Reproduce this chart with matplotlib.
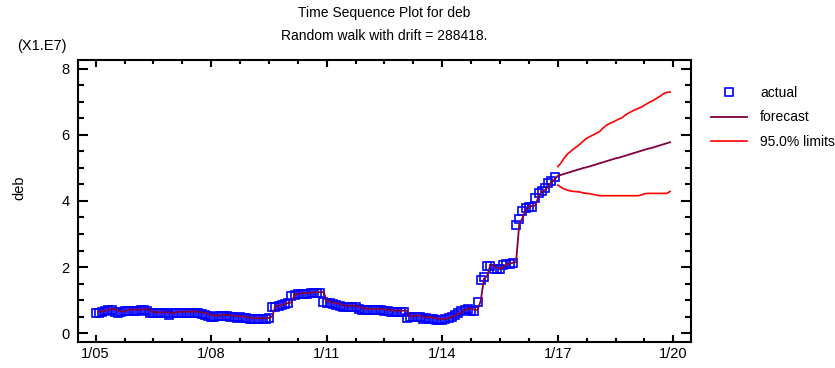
import numpy as np
import matplotlib
matplotlib.use("Agg")
import matplotlib.pyplot as plt
from matplotlib.ticker import MultipleLocator, FixedLocator

plt.rcParams['font.family'] = ['Liberation Sans', 'DejaVu Sans']

# monthly data, Jan 2005 .. Dec 2016 (units of 1E7)
actual = [
    0.62, 0.62, 0.64, 0.68, 0.71, 0.70, 0.65, 0.62, 0.63, 0.67, 0.68, 0.68,   # 2005
    0.68, 0.68, 0.69, 0.71, 0.66, 0.60, 0.60, 0.60, 0.60, 0.60, 0.60, 0.56,   # 2006
    0.60, 0.61, 0.62, 0.62, 0.62, 0.62, 0.62, 0.62, 0.60, 0.58, 0.56, 0.52,   # 2007
    0.50, 0.50, 0.51, 0.52, 0.52, 0.51, 0.50, 0.48, 0.47, 0.48, 0.46, 0.45,   # 2008
    0.42, 0.42, 0.42, 0.42, 0.42, 0.43, 0.47, 0.78, 0.80, 0.82, 0.86, 0.88,   # 2009
    0.90, 1.12, 1.16, 1.17, 1.18, 1.18, 1.19, 1.20, 1.21, 1.21, 1.22, 0.95,   # 2010
    0.92, 0.90, 0.88, 0.86, 0.82, 0.80, 0.80, 0.80, 0.80, 0.78, 0.72, 0.71,   # 2011
    0.71, 0.70, 0.70, 0.70, 0.70, 0.69, 0.68, 0.66, 0.65, 0.65, 0.65, 0.65,   # 2012
    0.65, 0.47, 0.48, 0.50, 0.50, 0.48, 0.44, 0.46, 0.44, 0.42, 0.40, 0.40,   # 2013
    0.40, 0.42, 0.45, 0.50, 0.55, 0.60, 0.67, 0.70, 0.72, 0.68, 0.67, 0.95,   # 2014
    1.62, 1.70, 2.04, 2.02, 1.95, 1.93, 1.95, 2.05, 2.08, 2.10, 2.12, 3.27,   # 2015
    3.45, 3.70, 3.80, 3.82, 3.83, 4.10, 4.25, 4.30, 4.40, 4.55, 4.62, 4.73,   # 2016
]
drift = 0.0288418

# forecasts Jan 2017 .. Dec 2019
forecast = [4.76, 4.79, 4.82, 4.85, 4.88, 4.91, 4.94, 4.97, 5.00, 5.02, 5.05, 5.08,
            5.11, 5.14, 5.17, 5.20, 5.23, 5.26, 5.29, 5.31, 5.34, 5.37, 5.40, 5.43,
            5.46, 5.49, 5.52, 5.55, 5.58, 5.60, 5.63, 5.66, 5.69, 5.72, 5.75, 5.78]
upper = [5.04, 5.15, 5.30, 5.42, 5.50, 5.58, 5.65, 5.73, 5.82, 5.90, 5.95, 6.00,
         6.05, 6.10, 6.20, 6.28, 6.34, 6.38, 6.43, 6.48, 6.52, 6.60, 6.66, 6.71,
         6.76, 6.80, 6.84, 6.90, 6.96, 7.01, 7.06, 7.12, 7.18, 7.25, 7.29, 7.30]
lower = [4.48, 4.42, 4.36, 4.33, 4.30, 4.29, 4.28, 4.27, 4.24, 4.23, 4.22, 4.20,
         4.18, 4.16, 4.16, 4.16, 4.16, 4.16, 4.16, 4.16, 4.16, 4.16, 4.16, 4.16,
         4.16, 4.16, 4.18, 4.22, 4.23, 4.23, 4.23, 4.23, 4.23, 4.23, 4.23, 4.29]

xticklabels = ["1/05", "1/08", "1/11", "1/14", "1/17", "1/20"]

actual = np.array(actual)
t_act = np.arange(len(actual))
# one-step-ahead fits of the random walk: previous value plus drift
fitted = actual[:-1] + drift
t_fit = t_act[1:]
t_fc = np.arange(len(actual), len(actual) + len(forecast))

fig = plt.figure(figsize=(8.35, 3.68), dpi=100)
ax = fig.add_axes([0.0934, 0.0707, 0.7341, 0.7663])

ax.plot(t_act, actual, ls='none', marker='s', ms=5.2, mfc='none', mec='#0000ff', mew=1.2,
        label='actual')
ax.plot(np.r_[t_fit, t_fc], np.r_[fitted, forecast], color='#800040', lw=1.3,
        label='forecast')
ax.plot(t_fc, upper, color='#ff0000', lw=1.2, label='95.0% limits')
ax.plot(t_fc, lower, color='#ff0000', lw=1.2)

ax.set_xlim(-5.5, 185.5)
ax.set_ylim(-0.27, 8.27)
ax.xaxis.set_major_locator(FixedLocator(np.arange(0, 181, 36)))
ax.set_xticklabels(xticklabels)
ax.xaxis.set_minor_locator(MultipleLocator(9))
ax.yaxis.set_major_locator(MultipleLocator(2))
ax.yaxis.set_minor_locator(MultipleLocator(0.5))
ax.tick_params(which='both', direction='in', top=True, right=True, width=1.5,
               labelsize=10.5, colors='black')
ax.tick_params(axis='y', which='major', length=7, pad=6)
ax.tick_params(axis='y', which='minor', length=4)
ax.tick_params(axis='x', which='major', length=5)
ax.tick_params(axis='x', which='minor', length=3)
for s in ax.spines.values():
    s.set_linewidth(1.5)

ax.set_ylabel('deb', fontsize=10.5)
ax.yaxis.set_label_coords(-0.084, 0.546)
fig.text(0.021, 0.875, '(X1.E7)', fontsize=10.5, va='center', ha='left')
fig.text(0.4605, 0.9647, 'Time Sequence Plot for deb', fontsize=10,
         ha='center', va='center')
fig.text(0.4605, 0.902, 'Random walk with drift = 288418.', fontsize=10,
         ha='center', va='center')

leg = ax.legend(loc='upper left', bbox_to_anchor=(1.017, 0.942), frameon=False,
                fontsize=10, handlelength=2.6, handletextpad=0.92, labelspacing=0.75,
                borderaxespad=0.3)

fig.savefig('out.png', dpi=100)
